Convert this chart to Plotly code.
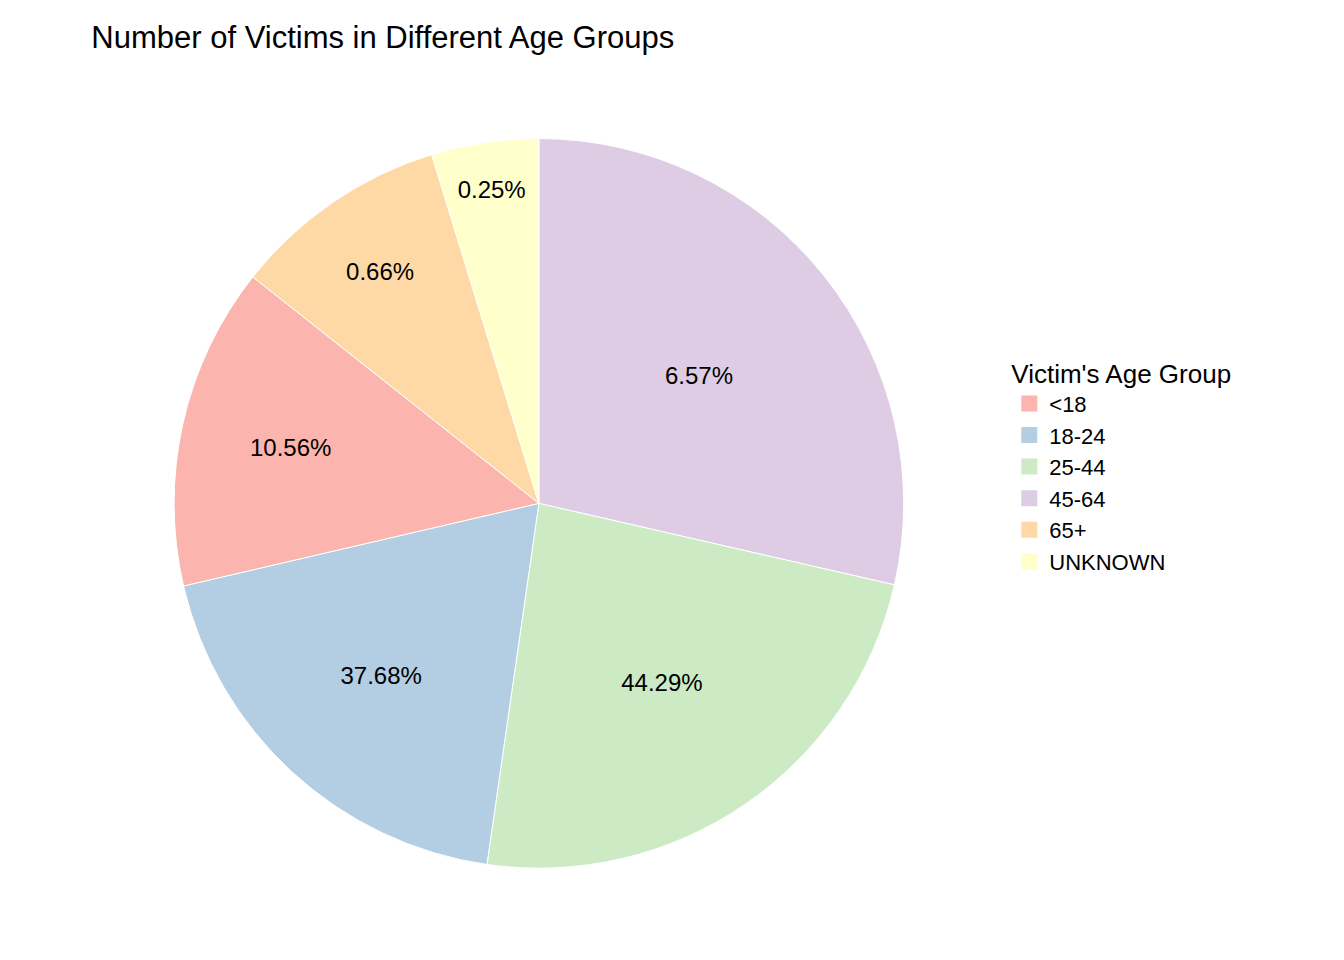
import plotly.graph_objects as go

# legend order
age_groups = ["<18", "18-24", "25-44", "45-64", "65+", "UNKNOWN"]
slice_share = [14.3, 19.1, 23.7, 28.6, 9.6, 4.75]
pct_labels = ["10.56%", "37.68%", "44.29%", "6.57%", "0.66%", "0.25%"]
colors = ["#FBB4AE", "#B3CDE3", "#CCEBC5", "#DECBE4", "#FED9A6", "#FFFFCC"]

# clockwise drawing order from 12 o'clock
draw_order = [3, 2, 1, 0, 4, 5]

fig = go.Figure()
fig.add_trace(go.Pie(
    labels=[age_groups[i] for i in draw_order],
    values=[slice_share[i] for i in draw_order],
    text=[pct_labels[i] for i in draw_order],
    marker=dict(colors=[colors[i] for i in draw_order], line=dict(color="white", width=1)),
    textinfo="text", textposition="inside", insidetextorientation="horizontal",
    textfont=dict(size=24, color="black", family="Arial"),
    sort=False, direction="clockwise", rotation=0,
    showlegend=False, hoverinfo="label+value",
    domain=dict(x=[0.123, 0.667], y=[0.104, 0.864]),
))

# legend entries in the original order
for name, col in zip(age_groups, colors):
    fig.add_trace(go.Scatter(
        x=[None], y=[None], mode="markers", name=name,
        marker=dict(symbol="square", size=30, color=col),
    ))

fig.update_layout(
    width=1344, height=960,
    margin=dict(l=0, r=0, t=0, b=0),
    paper_bgcolor="white", plot_bgcolor="white",
    font=dict(family="Arial", color="black"),
    title=dict(text="Number of Victims in Different Age Groups", x=0.062, xanchor="left",
               y=0.97, yanchor="middle", font=dict(size=31)),
    xaxis=dict(visible=False), yaxis=dict(visible=False),
    legend=dict(title=dict(text="Victim's Age Group", font=dict(size=26)),
                x=0.745, y=0.645, xanchor="left", yanchor="top",
                font=dict(size=22), itemsizing="trace", tracegroupgap=0),
)

fig.write_html("out.html")
